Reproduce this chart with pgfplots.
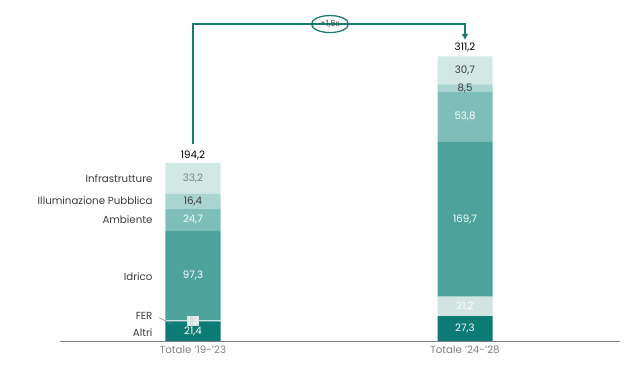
\documentclass[border=0pt]{standalone}
\usepackage{pgfplots}
\pgfplotsset{compat=1.18}
\usetikzlibrary{shapes.geometric,arrows.meta}
\usepackage{fontspec}
\setmainfont{Poppins}
\definecolor{cAltri}{HTML}{0B7B74}
\definecolor{cFER}{HTML}{D2E3E1}
\definecolor{cIdrico}{HTML}{4DA39C}
\definecolor{cAmb}{HTML}{7DBFB8}
\definecolor{cIll}{HTML}{A9D4CF}
\definecolor{cInfra}{HTML}{D2E8E5}
\definecolor{cTxt}{HTML}{3C3C3C}
\definecolor{cGray}{HTML}{808080}
\definecolor{cArrow}{HTML}{1A7A72}
\begin{document}
\begin{tikzpicture}[font=\fontsize{10.3}{12}\selectfont]
\begin{axis}[
  set layers=standard,
  scale only axis, width=560bp, height=341bp,
  xmin=60, xmax=620, ymin=0, ymax=372.7,
  ybar stacked, bar width=55bp,
  every axis plot/.append style={on layer=axis background},
  axis y line=none, axis x line*=bottom,
  x axis line style={draw=cGray, line width=1pt},
  xtick={193,465}, xticklabels={Totale '19-'23, Totale '24-'28},
  major tick length=0pt, ytick=\empty,
  xticklabel style={text=cGray, font=\fontsize{10.3}{12}\selectfont, yshift=-1.5bp},
  clip=false,
]
\addplot[fill=cAltri, draw=none] coordinates {(193,21.4) (465,27.3)};
\addplot[fill=cFER, draw=none] coordinates {(193,1.3) (465,21.2)};
\addplot[fill=cIdrico, draw=none] coordinates {(193,97.3) (465,169.7)};
\addplot[fill=cAmb, draw=none] coordinates {(193,24.7) (465,53.8)};
\addplot[fill=cIll, draw=none] coordinates {(193,16.4) (465,8.5)};
\addplot[fill=cInfra, draw=none] coordinates {(193,33.2) (465,30.7)};
% value labels bar 1
\node[text=white] at (axis cs:193,10.7) {21,4};
\node[text=white, fill=cFER, inner sep=0.8bp] at (axis cs:193,21.9) {1,3};
\node[text=white] at (axis cs:193,71.35) {97,3};
\node[text=white] at (axis cs:193,132.35) {24,7};
\node[text=cTxt] at (axis cs:193,152.9) {16,4};
\node[text=cGray] at (axis cs:193,177.7) {33,2};
\node[text=black] at (axis cs:193,203.3) {194,2};
% value labels bar 2
\node[text=white] at (axis cs:465,14.2) {27,3};
\node[text=white] at (axis cs:465,37.9) {21,2};
\node[text=white] at (axis cs:465,133.35) {169,7};
\node[text=white] at (axis cs:465,245.1) {53,8};
\node[text=cTxt] at (axis cs:465,276.25) {8,5};
\node[text=cTxt] at (axis cs:465,295.85) {30,7};
\node[text=black] at (axis cs:465,321) {311,2};
% category labels
\node[text=cTxt, anchor=east] at (axis cs:156,177.7) {Infrastrutture};
\node[text=cTxt, anchor=east] at (axis cs:156,152.9) {Illuminazione Pubblica};
\node[text=cTxt, anchor=east] at (axis cs:156,132.35) {Ambiente};
\node[text=cTxt, anchor=east] at (axis cs:156,70) {Idrico};
\node[text=cTxt, anchor=east] at (axis cs:156,27.3) {FER};
\node[text=cTxt, anchor=east] at (axis cs:156,8.7) {Altri};
\draw[cGray, line width=0.5pt] (axis cs:159,25.5) -- (axis cs:172,18.5);
% arrow
\draw[cArrow, line width=1.4pt, -{Latex[length=6bp,width=7bp]}] (axis cs:193,215.3) -- (axis cs:193,346.4) -- (axis cs:465,346.4) -- (axis cs:465,329);
\node[draw=cArrow, line width=1.3pt, fill=white, ellipse, inner sep=0pt, minimum width=37bp, minimum height=17bp, text=cTxt, font=\fontsize{8.5}{10}\selectfont] at (axis cs:330,346.4) {+1,6x};
\end{axis}
\pgfresetboundingbox
\useasboundingbox (-60bp,-36bp) rectangle (580bp,341bp);
\end{tikzpicture}
\end{document}
